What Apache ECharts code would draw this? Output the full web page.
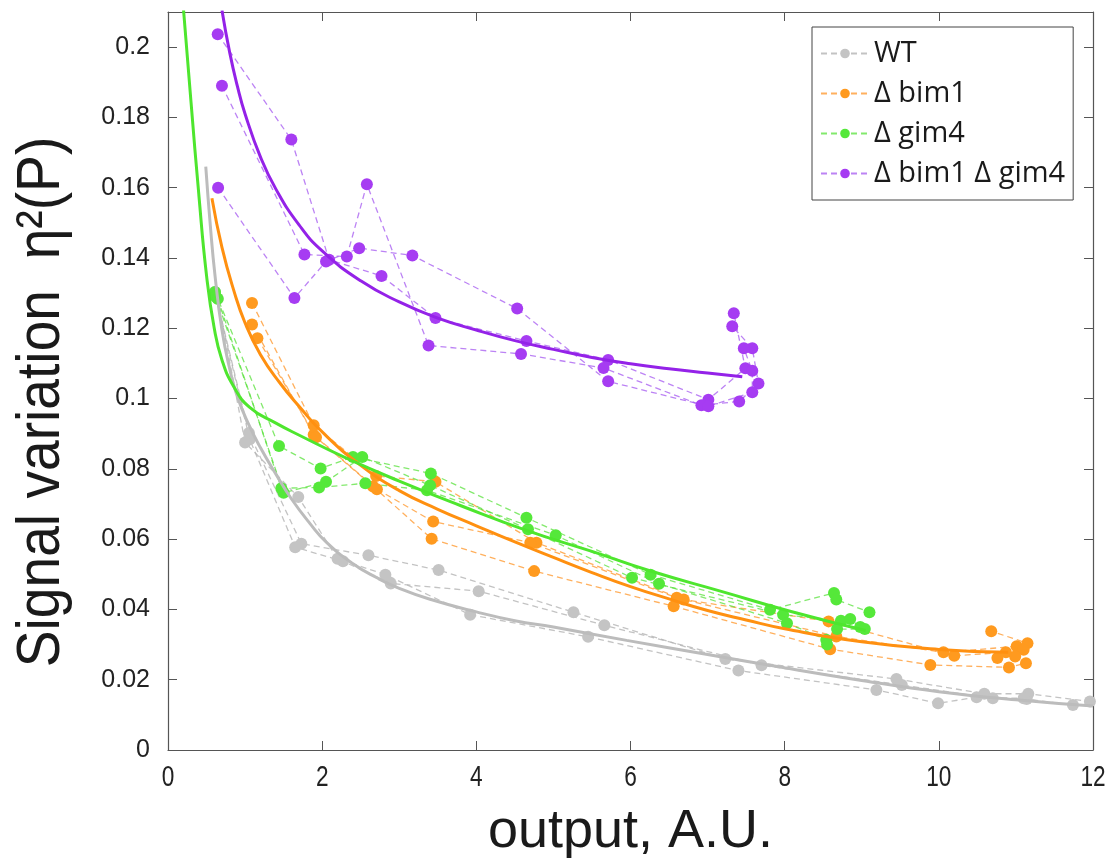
<!DOCTYPE html>
<html>
<head>
<meta charset="utf-8">
<script src="https://cdn.jsdelivr.net/npm/echarts@6/dist/echarts.min.js"></script>
<style>
html,body{margin:0;padding:0;background:#fff;}
#chart{width:1117px;height:867px;}
</style>
</head>
<body>
<div id="chart"></div>
<script>
// ---- data ----
const strainNames = ['WT', 'Δ bim1', 'Δ gim4', 'Δ bim1 Δ gim4'];
const xTicks = [0, 2, 4, 6, 8, 10, 12];
const yTicks = [0, 0.02, 0.04, 0.06, 0.08, 0.1, 0.12, 0.14, 0.16, 0.18, 0.2];
const xTitle = 'output, A.U.';
const yTitle = 'Signal variation  η²(P)';

// WT replicate traces [output, eta^2]
const wtRep1 = [[0.61,0.1303],[1.05,0.0902],[1.73,0.0587],[2.60,0.0554],[3.51,0.0512],[5.26,0.0392],[7.23,0.0259],[9.45,0.0202],[10.59,0.016],[11.16,0.016],[11.96,0.0138]];
const wtRep2 = [[0.62,0.129],[1.06,0.0884],[1.65,0.0577],[2.27,0.0537],[2.89,0.0474],[4.03,0.0452],[5.66,0.0355],[7.70,0.0241],[9.52,0.0185],[10.70,0.0147],[11.14,0.0145],[11.74,0.0128]];
const wtRep3 = [[0.645,0.1284],[1.00,0.0875],[1.69,0.072],[2.20,0.0544],[2.82,0.0499],[3.92,0.0385],[5.45,0.0322],[7.40,0.0226],[9.19,0.0171],[9.99,0.0133],[10.49,0.015],[11.10,0.0147]];

// Δ bim1 replicate traces
const bim1Rep1 = [[1.09,0.1272],[1.89,0.0924],[2.70,0.078],[3.47,0.0763],[4.78,0.059],[6.69,0.0428],[8.57,0.0366],[10.20,0.0268],[10.87,0.0278],[11.15,0.0304],[10.68,0.0338]];
const bim1Rep2 = [[1.09,0.1211],[1.89,0.0897],[2.71,0.0742],[3.44,0.065],[4.70,0.059],[6.60,0.0433],[8.67,0.0323],[10.06,0.0278],[11.01,0.0295],[11.10,0.0285],[10.76,0.0262]];
const bim1Rep3 = [[1.16,0.1172],[1.92,0.089],[2.66,0.075],[3.42,0.0601],[4.75,0.0509],[6.56,0.0409],[8.59,0.0287],[9.89,0.0242],[10.91,0.0235],[11.13,0.0247],[10.99,0.0266]];

// Δ gim4 replicate traces
const gim4Rep1 = [[0.61,0.1303],[1.44,0.0865],[1.98,0.0801],[2.40,0.0834],[3.41,0.0787],[4.65,0.0661],[6.26,0.0499],[7.81,0.0399],[8.64,0.0447],[8.67,0.0428],[9.10,0.0392]];
const gim4Rep2 = [[0.62,0.129],[1.50,0.0732],[2.05,0.0763],[2.52,0.0834],[3.40,0.0753],[4.67,0.0628],[6.02,0.049],[7.98,0.0385],[8.73,0.0368],[8.85,0.0373],[8.98,0.035]];
const gim4Rep3 = [[0.645,0.1284],[1.47,0.0745],[1.96,0.0747],[2.56,0.0759],[3.36,0.0739],[5.03,0.0611],[6.37,0.0473],[8.03,0.0361],[8.54,0.0314],[8.55,0.03],[8.68,0.0344],[9.04,0.0344]];

// Δ bim1 Δ gim4 replicate traces
const dblRep1 = [[0.645,0.2037],[1.60,0.1737],[2.09,0.1395],[2.77,0.1349],[3.47,0.1229],[4.65,0.1164],[5.71,0.111],[7.01,0.0997],[7.49,0.1086],[7.34,0.1243]];
const dblRep2 = [[0.70,0.189],[1.77,0.141],[2.32,0.1404],[2.58,0.161],[3.38,0.1151],[4.58,0.1127],[5.65,0.1087],[6.92,0.0981],[7.41,0.0992],[7.66,0.1043],[7.58,0.1143],[7.32,0.1206]];
const dblRep3 = [[0.65,0.160],[1.64,0.1286],[2.05,0.139],[2.48,0.1428],[3.17,0.1407],[4.53,0.1256],[5.71,0.1049],[7.01,0.0978],[7.58,0.1018],[7.58,0.1079],[7.47,0.1143]];

// fitted curves
const wtFit = [[0.49,0.166],[0.55,0.149],[0.61,0.135],[0.7,0.1195],[0.8,0.1085],[0.9,0.1005],[1.05,0.0925],[1.2,0.086],[1.4,0.0785],[1.6,0.0715],[1.84,0.0645],[2.06,0.059],[2.4,0.053],[2.71,0.049],[3.0,0.046],[3.4,0.0429],[4.0,0.0393],[4.5,0.0368],[5.0,0.035],[5.95,0.0312],[7.0,0.0272],[8.0,0.0234],[9.0,0.0198],[10.0,0.0166],[11.0,0.0143],[12.0,0.0125]];
const bim1Fit = [[0.57,0.157],[0.7,0.143],[0.85,0.131],[1.0,0.1215],[1.2,0.1125],[1.45,0.1045],[1.7,0.0978],[2.0,0.0905],[2.5,0.081],[3.0,0.0738],[3.5,0.0685],[4.0,0.0638],[4.5,0.0592],[5.0,0.0548],[5.5,0.0505],[6.0,0.0465],[6.5,0.043],[7.0,0.0397],[7.5,0.037],[8.0,0.0345],[9.0,0.0308],[10.0,0.0286],[10.9,0.0278]];
const gim4Fit = [[0.2,0.211],[0.3,0.184],[0.4,0.158],[0.5,0.135],[0.6,0.12],[0.7,0.111],[0.85,0.1035],[1.06,0.0975],[1.4,0.093],[1.71,0.0895],[2.3,0.0832],[3.0,0.0765],[3.8,0.0695],[4.65,0.0625],[5.5,0.0565],[6.25,0.051],[7.2,0.045],[8.07,0.0395],[9.05,0.034]];
const dblFit = [[0.7,0.2105],[0.8,0.1985],[0.9,0.1889],[1.0,0.181],[1.2,0.1687],[1.4,0.1596],[1.7,0.1494],[2.0,0.142],[2.5,0.1335],[3.0,0.1275],[3.5,0.1229],[4.0,0.1195],[4.5,0.1165],[5.0,0.114],[5.5,0.1117],[6.0,0.1099],[6.5,0.1085],[7.0,0.1073],[7.45,0.1062]];

// ---- styles ----
const colors = {
  'WT': {mark:'#c4c4c4', dash:'rgba(180,180,180,0.8)', fit:'#bcbcbc'},
  'Δ bim1': {mark:'#ff9a1f', dash:'rgba(255,150,40,0.75)', fit:'#ff9010'},
  'Δ gim4': {mark:'#55e83a', dash:'rgba(90,225,60,0.75)', fit:'#4ee62e'},
  'Δ bim1 Δ gim4': {mark:'#a63cf2', dash:'rgba(165,90,240,0.75)', fit:'#9422e8'}
};
const groups = [
  {name:'WT', reps:[wtRep1, wtRep2, wtRep3], fit: wtFit},
  {name:'Δ bim1', reps:[bim1Rep1, bim1Rep2, bim1Rep3], fit: bim1Fit},
  {name:'Δ gim4', reps:[gim4Rep1, gim4Rep2, gim4Rep3], fit: gim4Fit},
  {name:'Δ bim1 Δ gim4', reps:[dblRep1, dblRep2, dblRep3], fit: dblFit}
];

const series = [];
groups.forEach(function (g) {
  const c = colors[g.name];
  g.reps.forEach(function (rep) {
    series.push({
      name: g.name, type: 'line', data: rep,
      symbol: 'circle', symbolSize: 12, showSymbol: true,
      itemStyle: {color: c.mark},
      lineStyle: {color: c.dash, width: 1.3, type: [6, 4]},
      z: 2, animation: false, silent: true
    });
  });
});
groups.forEach(function (g) {
  const c = colors[g.name];
  series.push({
    name: g.name + ' fit', type: 'line', data: g.fit,
    symbol: 'none', smooth: 0.5,
    lineStyle: {color: c.fit, width: 3},
    z: 3, animation: false, silent: true
  });
});

const axisColor = '#555555';
const fmt = function (v) { return String(Math.round(v * 100) / 100); };

const chart = echarts.init(document.getElementById('chart'), null, {renderer: 'canvas'});
chart.setOption({
  backgroundColor: '#ffffff',
  animation: false,
  grid: {left: 168, right: 24, top: 12, bottom: 117, containLabel: false},
  legend: {
    data: strainNames,
    orient: 'vertical', left: 812, top: 27,
    backgroundColor: '#ffffff', borderColor: '#444', borderWidth: 1, borderRadius: 0,
    padding: [12, 8, 12, 8], itemGap: 11, itemWidth: 48, itemHeight: 12,
    textStyle: {fontFamily: 'Open Sans', fontSize: 29, color: '#1a1a1a'},
    selectedMode: false
  },
  xAxis: [{
    type: 'value', min: xTicks[0], max: xTicks[xTicks.length - 1], interval: 2, position: 'bottom',
    axisLine: {show: true, onZero: false, lineStyle: {color: axisColor, width: 1.2}},
    axisTick: {show: true, inside: true, length: 9, lineStyle: {color: axisColor}},
    axisLabel: {show: false},
    splitLine: {show: false},
    name: xTitle, nameLocation: 'middle', nameGap: 55,
    nameTextStyle: {fontFamily: 'Liberation Sans', fontSize: 54, color: '#1a1a1a'}
  }, {
    type: 'value', min: xTicks[0], max: xTicks[xTicks.length - 1], interval: 2, position: 'top',
    axisLine: {show: true, onZero: false, lineStyle: {color: axisColor, width: 1.2}},
    axisTick: {show: true, inside: true, length: 9, lineStyle: {color: axisColor}},
    axisLabel: {show: false}, splitLine: {show: false}
  }],
  yAxis: [{
    type: 'value', min: 0, max: 0.21, interval: 0.02, position: 'left',
    axisLine: {show: true, onZero: false, lineStyle: {color: axisColor, width: 1.2}},
    axisTick: {show: true, inside: true, length: 9, lineStyle: {color: axisColor}},
    axisLabel: {fontFamily: 'Liberation Sans', fontSize: 25, color: '#222', margin: 18,
      formatter: fmt, showMaxLabel: false},
    splitLine: {show: false}
  }, {
    type: 'value', min: 0, max: 0.21, interval: 0.02, position: 'right',
    axisLine: {show: true, onZero: false, lineStyle: {color: axisColor, width: 1.2}},
    axisTick: {show: true, inside: true, length: 9, lineStyle: {color: axisColor}},
    axisLabel: {show: false}, splitLine: {show: false}
  }],
  series: series
});

// narrow tick labels for the x axis and the rotated y title, placed through the axis scales
const graphics = [];
const yMidPx = chart.convertToPixel({yAxisIndex: 0}, 0.105);
const x0Px = chart.convertToPixel({xAxisIndex: 0}, 0);
const yZeroPx = chart.convertToPixel({yAxisIndex: 0}, 0);
xTicks.forEach(function (t) {
  graphics.push({
    type: 'text', x: chart.convertToPixel({xAxisIndex: 0}, t), y: yZeroPx + 28,
    scaleX: 0.78, silent: true,
    style: {text: String(t), font: '29px "Liberation Sans"', fill: '#222',
      align: 'center', verticalAlign: 'middle', textAlign: 'center', textVerticalAlign: 'middle'}
  });
});
graphics.push({
  type: 'text', x: x0Px - 126, y: yMidPx + 21, rotation: Math.PI / 2, scaleX: 0.89, silent: true,
  style: {text: yTitle, font: '62px "Liberation Sans"', fill: '#1a1a1a',
    align: 'center', verticalAlign: 'middle', textAlign: 'center', textVerticalAlign: 'middle'}
});
chart.setOption({graphic: graphics});
</script>
</body>
</html>
